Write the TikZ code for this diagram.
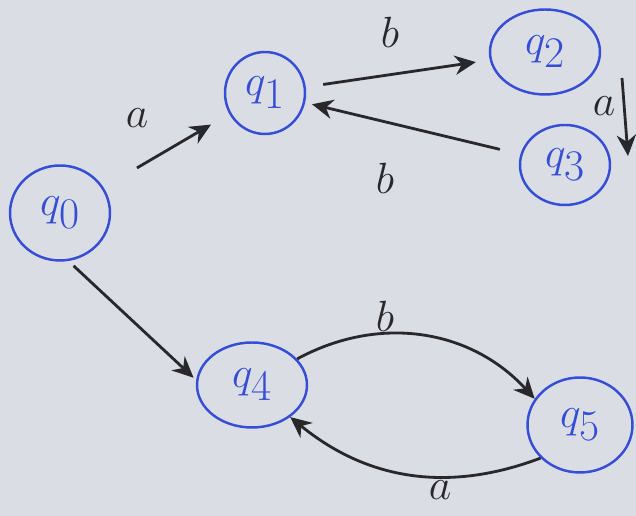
\documentclass[tikz,border=0pt]{standalone}
\usetikzlibrary{arrows.meta,shapes.geometric}
\definecolor{penblue}{RGB}{52,78,214}
\definecolor{paper}{RGB}{218,221,228}
\definecolor{ink}{RGB}{40,40,44}
\tikzset{
    state/.style={ellipse,draw=penblue,line width=1.4pt,text=penblue,inner sep=0pt,
        font=\fontsize{46}{48}\selectfont},
    edge/.style={ink,line width=1.6pt,-{Stealth[length=12pt,width=11pt]}},
    lbl/.style={ink,font=\fontsize{34}{36}\selectfont}
}
\begin{document}
\begin{tikzpicture}[x=0.02cm,y=0.02cm]
        \useasboundingbox[fill=paper] (0,0) rectangle (636,516);
        %% States
        \node[state,minimum width=2cm,minimum height=1.9cm] (q0) at (60,303) {$q_0$};
        \node[state,minimum width=1.6cm,minimum height=1.64cm] (q1) at (265,423) {$q_1$};
        \node[state,minimum width=2.2cm,minimum height=1.7cm] (q2) at (545,464) {$q_2$};
        \node[state,minimum width=1.8cm,minimum height=1.6cm] (q3) at (565,351) {$q_3$};
        \node[state,minimum width=2.2cm,minimum height=1.7cm] (q4) at (252,131) {$q_4$};
        \node[state,minimum width=2.1cm,minimum height=1.9cm] (q5) at (580,91) {$q_5$};
        %% Top part
        \draw[edge,shorten <=22,shorten >=12] (q0) -- (q1);
        \node[lbl] (la1) at (137,398) {$a$};
        \draw[edge,shorten <=10,shorten >=8] (q1) -- (q2);
        \node[lbl] (lb1) at (390,484) {$b$};
        \coordinate (d1) at (622,438);
        \coordinate (d2) at (628,360);
        \draw[edge] (d1) -- (d2);
        \node[lbl] (la2) at (604,410) {$a$};
        \draw[edge,shorten <=12,shorten >=4] (q3) -- (q1);
        \node[lbl] (lb2) at (385,338) {$b$};
        %% Bottom part
        \draw[edge,shorten <=4,shorten >=2] (q0.-80) -- (q4.175);
        \draw[edge] (q4.30) to[bend left=38] (q5.150);
        \node[lbl] (lb3) at (385,200) {$b$};
        \draw[edge] (q5.-140) to[bend left=30] (q4.-40);
        \node[lbl] (la3) at (440,26) {$a$};
\end{tikzpicture}
\end{document}
